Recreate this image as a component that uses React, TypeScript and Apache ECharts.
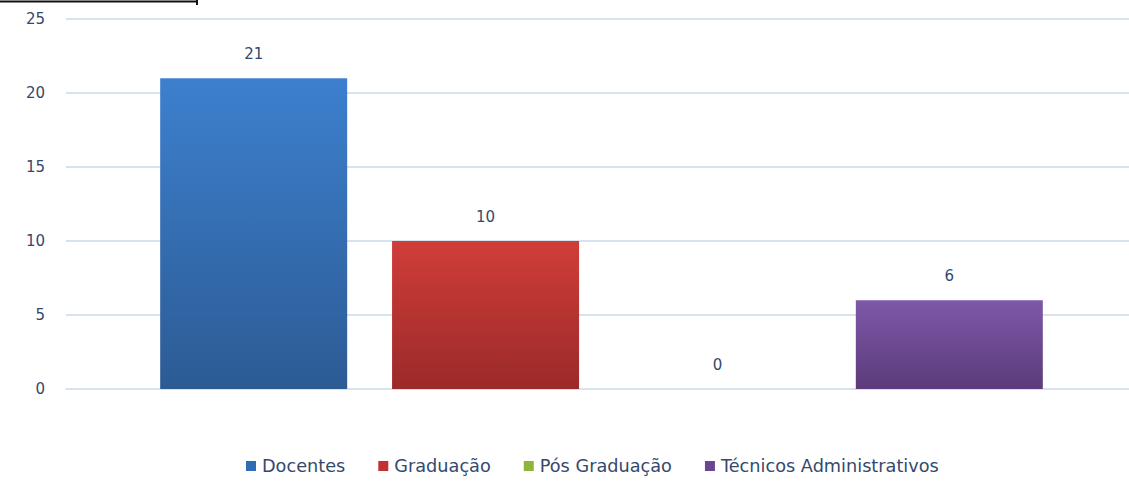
import React, { useEffect, useRef } from "react";
import * as echarts from "echarts";

const categories = [""];
const seriesNames = ["Docentes", "Graduação", "Pós Graduação", "Técnicos Administrativos"];
const docentes = [21];
const graduacao = [10];
const posGraduacao = [0];
const tecnicos = [6];
const yTicks = [0, 5, 10, 15, 20, 25];

const topColors = ["#3d80ce", "#d03d39", "#a3c45c", "#7e58a9"];
const bottomColors = ["#2c5b94", "#9b2a29", "#7e9a3e", "#5c3b7a"];
const legendColors = ["#2f6cb6", "#c13331", "#8db43b", "#6a4592"];

export default function App() {
  const ref = useRef<HTMLDivElement>(null);
  useEffect(() => {
    const chart = echarts.init(ref.current!, null, { renderer: "svg" });
    const values = [docentes, graduacao, posGraduacao, tecnicos];
    const textColor = "#34496d";
    const font = "DejaVu Sans";
    chart.setOption({
      animation: false,
      backgroundColor: "#ffffff",
      textStyle: { fontFamily: font },
      grid: { left: 66, right: -8, top: 19, bottom: 111, outerBoundsMode: "none" },
      legend: {
        bottom: 20,
        left: 241,
        itemWidth: 10,
        itemHeight: 10,
        itemGap: 33,
        icon: "rect",
        data: seriesNames.map((n, i) => ({ name: n, itemStyle: { color: legendColors[i] } })),
        textStyle: { color: textColor, fontSize: 17.7, fontFamily: font, padding: [0, 0, 0, 1] },
      },
      xAxis: {
        type: "category",
        data: categories,
        axisLine: { show: true, lineStyle: { color: "#d9e3f0", width: 2 } },
        axisTick: { show: false },
        axisLabel: { show: false },
      },
      yAxis: {
        type: "value",
        min: yTicks[0],
        max: yTicks[yTicks.length - 1],
        interval: 5,
        axisLine: { show: false },
        axisTick: { show: false },
        splitLine: { lineStyle: { color: "#d9e3f0", width: 2 } },
        axisLabel: { color: textColor, fontSize: 15, margin: 21, fontFamily: font },
      },
      series: seriesNames.map((name, i) => ({
        name,
        type: "bar",
        data: values[i],
        barWidth: 187,
        barGap: "24%",
        itemStyle: {
          color: new echarts.graphic.LinearGradient(0, 0, 0, 1, [
            { offset: 0, color: topColors[i] },
            { offset: 1, color: bottomColors[i] },
          ]),
        },
        label: {
          show: true,
          position: "top",
          distance: 17,
          color: textColor,
          fontSize: 15,
          fontFamily: font,
        },
      })),
      graphic: [
        { type: "line", shape: { x1: 0, y1: 1.5, x2: 197, y2: 1.5 }, style: { stroke: "#111", lineWidth: 2 } },
        { type: "line", shape: { x1: 197, y1: 0, x2: 197, y2: 5 }, style: { stroke: "#111", lineWidth: 2 } },
      ],
    });
    return () => chart.dispose();
  }, []);
  return <div ref={ref} style={{ width: 1129, height: 500, position: "absolute", left: 0, top: 0 }} />;
}
